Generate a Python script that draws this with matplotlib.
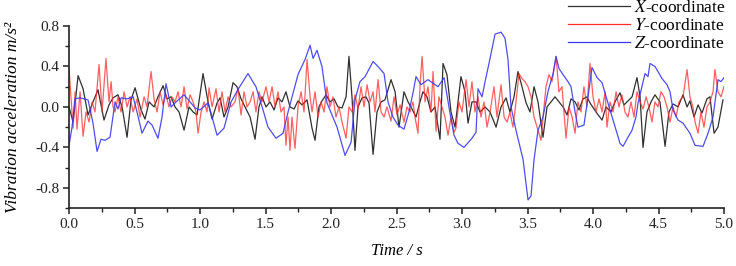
import matplotlib
matplotlib.use("Agg")
import matplotlib.pyplot as plt
from matplotlib.ticker import MultipleLocator

plt.rcParams['font.family'] = ['Liberation Serif', 'DejaVu Serif']
plt.rcParams['mathtext.fontset'] = 'stix'

# ---------------- data ----------------
t_z = [0.000, 0.023, 0.046, 0.084, 0.145, 0.183, 0.214, 0.244, 0.275, 0.313, 0.351, 0.374, 0.397, 0.443,
       0.489, 0.519, 0.557, 0.603, 0.634, 0.679, 0.710, 0.740, 0.779, 0.817, 0.878, 0.924, 0.962, 1.000,
       1.061, 1.092, 1.130, 1.183, 1.237, 1.298, 1.366, 1.427, 1.481, 1.519, 1.580, 1.634, 1.672, 1.748,
       1.802, 1.840, 1.863, 1.893, 1.931, 1.969, 2.046, 2.107, 2.153, 2.183, 2.221, 2.260, 2.321, 2.359,
       2.405, 2.435, 2.473, 2.511, 2.557, 2.595, 2.626, 2.649, 2.687, 2.740, 2.817, 2.863, 2.908, 2.939,
       2.969, 3.015, 3.076, 3.107, 3.122, 3.153, 3.176, 3.214, 3.252, 3.298, 3.328, 3.351, 3.374, 3.412,
       3.466, 3.504, 3.527, 3.550, 3.580, 3.618, 3.656, 3.695, 3.718, 3.740, 3.771, 3.809, 3.832, 3.863,
       3.885, 3.931, 3.962, 3.992, 4.031, 4.069, 4.107, 4.153, 4.206, 4.229, 4.267, 4.298, 4.328, 4.344,
       4.397, 4.420, 4.435, 4.473, 4.496, 4.527, 4.565, 4.588, 4.611, 4.649, 4.687, 4.740, 4.779, 4.840,
       4.878, 4.916, 4.954, 4.977, 5.000]
z_vals = [-0.38, -0.20, 0.08, 0.09, 0.07, -0.16, -0.44, -0.32, -0.33, -0.30, 0.05, -0.02, 0.09, 0.08,
          0.10, -0.05, -0.26, -0.14, -0.18, -0.31, -0.10, 0.23, 0.00, 0.05, 0.12, 0.05, -0.01, -0.03,
          0.04, -0.10, -0.28, -0.21, 0.05, 0.19, 0.33, 0.20, -0.03, -0.20, -0.31, -0.26, -0.05, 0.32,
          0.47, 0.61, 0.48, 0.56, 0.40, 0.04, -0.20, -0.48, -0.35, 0.07, 0.25, 0.30, 0.45, 0.40,
          0.33, 0.05, -0.10, -0.18, -0.22, -0.05, 0.14, 0.30, 0.22, 0.27, 0.20, 0.29, -0.06, -0.28,
          -0.36, -0.40, -0.31, -0.25, 0.18, 0.10, 0.25, 0.48, 0.72, 0.74, 0.68, 0.47, 0.00, -0.23,
          -0.52, -0.92, -0.88, -0.52, -0.23, -0.10, 0.15, 0.33, 0.50, 0.38, 0.32, 0.25, 0.20, -0.05,
          -0.20, -0.18, 0.10, 0.39, 0.29, 0.24, 0.07, -0.13, -0.36, -0.39, -0.30, -0.23, -0.10, 0.04,
          0.33, 0.30, 0.43, 0.40, 0.35, 0.28, 0.22, 0.15, -0.03, -0.13, -0.16, -0.26, -0.38, -0.39,
          -0.26, -0.10, 0.27, 0.25, 0.29]

t_x = [0.000, 0.031, 0.069, 0.107, 0.145, 0.183, 0.221, 0.267, 0.305, 0.336, 0.374, 0.405, 0.443, 0.473,
       0.504, 0.550, 0.580, 0.611, 0.649, 0.679, 0.718, 0.748, 0.779, 0.809, 0.840, 0.878, 0.916, 0.947,
       0.977, 1.023, 1.061, 1.092, 1.130, 1.153, 1.183, 1.214, 1.252, 1.282, 1.313, 1.344, 1.382, 1.420,
       1.450, 1.473, 1.504, 1.534, 1.565, 1.595, 1.626, 1.656, 1.687, 1.718, 1.748, 1.779, 1.817, 1.855,
       1.878, 1.908, 1.931, 1.962, 1.992, 2.023, 2.053, 2.084, 2.115, 2.137, 2.160, 2.183, 2.206, 2.237,
       2.267, 2.290, 2.321, 2.351, 2.382, 2.412, 2.458, 2.489, 2.519, 2.557, 2.588, 2.618, 2.649, 2.679,
       2.702, 2.733, 2.763, 2.794, 2.832, 2.855, 2.885, 2.916, 2.947, 2.992, 3.023, 3.046, 3.076, 3.107,
       3.137, 3.176, 3.214, 3.260, 3.298, 3.336, 3.366, 3.397, 3.427, 3.458, 3.489, 3.519, 3.550, 3.580,
       3.618, 3.649, 3.679, 3.710, 3.740, 3.771, 3.802, 3.832, 3.863, 3.893, 3.924, 3.954, 3.977, 4.023,
       4.069, 4.099, 4.137, 4.168, 4.206, 4.237, 4.267, 4.298, 4.336, 4.359, 4.382, 4.412, 4.443, 4.473,
       4.511, 4.550, 4.580, 4.611, 4.649, 4.687, 4.718, 4.740, 4.771, 4.802, 4.832, 4.870, 4.893, 4.924,
       4.954, 4.992]
x_vals = [0.00, -0.15, 0.31, 0.18, -0.08, 0.05, 0.17, -0.13, 0.02, 0.09, 0.12, 0.00, -0.30, 0.07,
          0.19, -0.03, -0.12, 0.05, 0.00, 0.10, 0.21, 0.08, 0.10, 0.00, -0.05, -0.23, 0.00, -0.05,
          -0.08, 0.33, 0.05, -0.12, 0.04, 0.09, -0.10, 0.00, 0.24, 0.20, 0.08, 0.00, -0.10, -0.32,
          0.00, 0.10, 0.00, 0.05, -0.03, 0.09, 0.05, 0.15, 0.00, -0.02, 0.06, 0.02, 0.07, -0.21,
          -0.33, 0.00, 0.06, 0.12, 0.05, 0.08, 0.00, -0.01, 0.10, 0.50, 0.10, -0.43, 0.00, 0.09,
          0.10, 0.04, -0.47, -0.05, 0.05, 0.07, 0.27, 0.15, -0.20, 0.15, 0.05, -0.02, -0.10, 0.05,
          0.15, 0.10, -0.05, 0.00, -0.32, 0.43, 0.32, -0.05, -0.20, 0.30, 0.15, -0.16, 0.05, 0.05,
          -0.05, 0.00, -0.05, -0.20, 0.00, 0.09, -0.05, 0.10, 0.35, 0.20, 0.04, -0.05, 0.20, 0.05,
          -0.30, 0.00, 0.05, 0.10, 0.05, 0.00, -0.08, 0.08, 0.05, -0.03, 0.08, 0.10, 0.04, -0.05,
          -0.13, 0.00, -0.05, 0.05, 0.14, 0.02, 0.06, 0.10, 0.29, 0.10, -0.40, -0.05, 0.05, 0.12,
          0.05, -0.39, -0.05, 0.03, 0.00, 0.12, 0.00, 0.06, -0.10, 0.02, -0.06, 0.08, 0.10, -0.26,
          -0.20, 0.07]

t_y = [0.000, 0.015, 0.031, 0.046, 0.061, 0.084, 0.107, 0.130, 0.153, 0.176, 0.198, 0.229, 0.252, 0.282,
       0.305, 0.321, 0.336, 0.351, 0.374, 0.397, 0.420, 0.443, 0.466, 0.489, 0.519, 0.542, 0.573, 0.595,
       0.626, 0.649, 0.672, 0.695, 0.718, 0.740, 0.763, 0.786, 0.809, 0.832, 0.855, 0.878, 0.901, 0.924,
       0.947, 0.969, 0.985, 1.008, 1.031, 1.053, 1.069, 1.092, 1.122, 1.145, 1.168, 1.191, 1.214, 1.237,
       1.267, 1.290, 1.313, 1.336, 1.359, 1.382, 1.405, 1.427, 1.450, 1.473, 1.504, 1.527, 1.550, 1.573,
       1.595, 1.618, 1.641, 1.656, 1.672, 1.687, 1.702, 1.725, 1.748, 1.771, 1.794, 1.817, 1.840, 1.855,
       1.878, 1.901, 1.924, 1.947, 1.969, 1.992, 2.015, 2.038, 2.061, 2.084, 2.115, 2.137, 2.160, 2.183,
       2.206, 2.229, 2.252, 2.275, 2.298, 2.321, 2.336, 2.359, 2.382, 2.405, 2.427, 2.458, 2.481, 2.504,
       2.527, 2.557, 2.580, 2.603, 2.626, 2.641, 2.664, 2.679, 2.695, 2.718, 2.740, 2.763, 2.779, 2.802,
       2.824, 2.847, 2.870, 2.893, 2.916, 2.939, 2.954, 2.977, 3.000, 3.031, 3.053, 3.076, 3.099, 3.122,
       3.145, 3.168, 3.191, 3.214, 3.244, 3.267, 3.298, 3.321, 3.344, 3.366, 3.389, 3.412, 3.435, 3.458,
       3.481, 3.504, 3.527, 3.550, 3.573, 3.603, 3.626, 3.641, 3.664, 3.687, 3.718, 3.740, 3.763, 3.794,
       3.817, 3.840, 3.863, 3.885, 3.908, 3.931, 3.954, 3.977, 4.000, 4.023, 4.046, 4.069, 4.092, 4.107,
       4.130, 4.153, 4.176, 4.198, 4.221, 4.244, 4.267, 4.290, 4.313, 4.336, 4.359, 4.382, 4.405, 4.427,
       4.450, 4.473, 4.496, 4.519, 4.542, 4.565, 4.588, 4.611, 4.634, 4.656, 4.687, 4.718, 4.740, 4.763,
       4.779, 4.802, 4.824, 4.847, 4.870, 4.893, 4.916, 4.931, 4.954, 4.977, 5.000]
y_vals = [0.38, 0.10, -0.21, 0.15, -0.22, 0.15, -0.29, -0.05, -0.15, 0.05, -0.05, 0.42, -0.05, 0.48,
          0.05, 0.25, 0.00, -0.05, 0.10, -0.05, 0.15, 0.00, 0.10, -0.05, 0.08, -0.10, 0.10, 0.00,
          0.35, 0.08, -0.05, 0.15, 0.02, 0.12, 0.00, 0.10, 0.05, 0.15, 0.00, 0.20, -0.02, 0.12,
          0.05, -0.05, -0.26, -0.05, 0.05, -0.05, 0.19, 0.00, 0.18, -0.05, 0.15, -0.05, 0.10, 0.00,
          0.05, 0.19, -0.08, 0.15, 0.00, 0.05, 0.15, -0.05, 0.15, 0.05, 0.20, 0.05, 0.20, 0.00,
          0.15, -0.05, 0.00, -0.38, -0.10, -0.43, -0.10, -0.41, 0.00, 0.15, -0.05, 0.47, 0.10, -0.05,
          0.15, -0.10, 0.05, -0.05, 0.20, 0.00, 0.10, -0.10, 0.00, -0.15, -0.31, 0.00, -0.05, 0.12,
          -0.02, 0.20, 0.00, 0.22, 0.05, 0.15, -0.05, 0.27, -0.05, -0.10, 0.00, -0.14, 0.10, -0.08,
          0.02, -0.15, 0.00, -0.05, 0.05, -0.10, -0.26, 0.20, 0.50, 0.05, 0.20, -0.05, 0.35, -0.24,
          0.10, 0.00, -0.10, -0.28, -0.10, -0.25, -0.21, 0.05, -0.05, 0.27, 0.00, 0.25, -0.05, 0.10,
          -0.10, 0.05, -0.20, -0.05, 0.20, -0.10, 0.22, -0.10, -0.15, -0.05, -0.20, 0.05, 0.33, 0.28,
          0.25, 0.20, 0.10, -0.10, -0.20, -0.33, 0.00, 0.20, 0.32, 0.25, 0.50, 0.15, 0.20, -0.31,
          0.00, -0.10, -0.26, 0.05, -0.05, 0.20, 0.00, 0.43, 0.10, -0.05, 0.08, -0.05, 0.15, -0.20,
          0.05, -0.05, 0.15, 0.00, 0.12, -0.05, -0.10, 0.05, -0.10, 0.15, 0.05, -0.02, 0.10, 0.00,
          -0.15, 0.05, 0.00, 0.15, 0.10, 0.00, -0.15, 0.00, -0.10, 0.05, 0.10, 0.37, 0.10, 0.00,
          -0.15, -0.26, -0.05, -0.20, 0.00, 0.05, 0.15, 0.37, 0.15, 0.10, 0.20]

series_labels = [r'$\mathit{X}$-coordinate', r'$\mathit{Y}$-coordinate', r'$\mathit{Z}$-coordinate']
x_ticks = [0.0, 0.5, 1.0, 1.5, 2.0, 2.5, 3.0, 3.5, 4.0, 4.5, 5.0]
y_ticks = [-0.8, -0.4, 0.0, 0.4, 0.8]

# ---------------- figure ----------------
fig = plt.figure(figsize=(7.36, 2.66), dpi=100)
ax = fig.add_axes([0.0938, 0.218, 0.8899, 0.684])

l1, = ax.plot(t_x, x_vals, color='#303030', lw=0.9, label=series_labels[0])
l2, = ax.plot(t_y, y_vals, color='#ff2a2a', lw=0.9, alpha=0.75, label=series_labels[1])
l3, = ax.plot(t_z, z_vals, color='#3a3af0', lw=0.9, alpha=0.9, label=series_labels[2])

ax.set_xlim(0, 5.0)
ax.set_ylim(-1.0, 0.8)
ax.set_xticks(x_ticks)
ax.set_xticklabels([f'{v:.1f}' for v in x_ticks])
ax.set_yticks(y_ticks)
ax.set_yticklabels([f'{v:.1f}' for v in y_ticks])
ax.xaxis.set_minor_locator(MultipleLocator(0.25))
ax.yaxis.set_minor_locator(MultipleLocator(0.2))
for s in ['top', 'right']:
    ax.spines[s].set_visible(False)
for s in ['left', 'bottom']:
    ax.spines[s].set_linewidth(1.2)
    ax.spines[s].set_color('#222222')
ax.tick_params(which='major', direction='out', length=4, width=1.1, labelsize=11,
               colors='#222222', pad=3)
ax.tick_params(which='minor', direction='out', length=3, width=1.0, colors='#222222')

ax.set_ylabel('Vibration acceleration m/s\u00b2', fontsize=12.5, style='italic', labelpad=10)
ax.set_xlabel('Time / s', fontsize=12, style='italic', labelpad=9)

leg = fig.legend(handles=[l1, l2, l3], loc='upper right', bbox_to_anchor=(1.0, 1.04),
                 frameon=False, fontsize=12.5, handlelength=3.6, handletextpad=0.2,
                 labelspacing=0.12, borderaxespad=0.2)
for h in leg.legend_handles:
    h.set_alpha(1.0)
    h.set_linewidth(0.9)

fig.savefig('out.png', dpi=100)
